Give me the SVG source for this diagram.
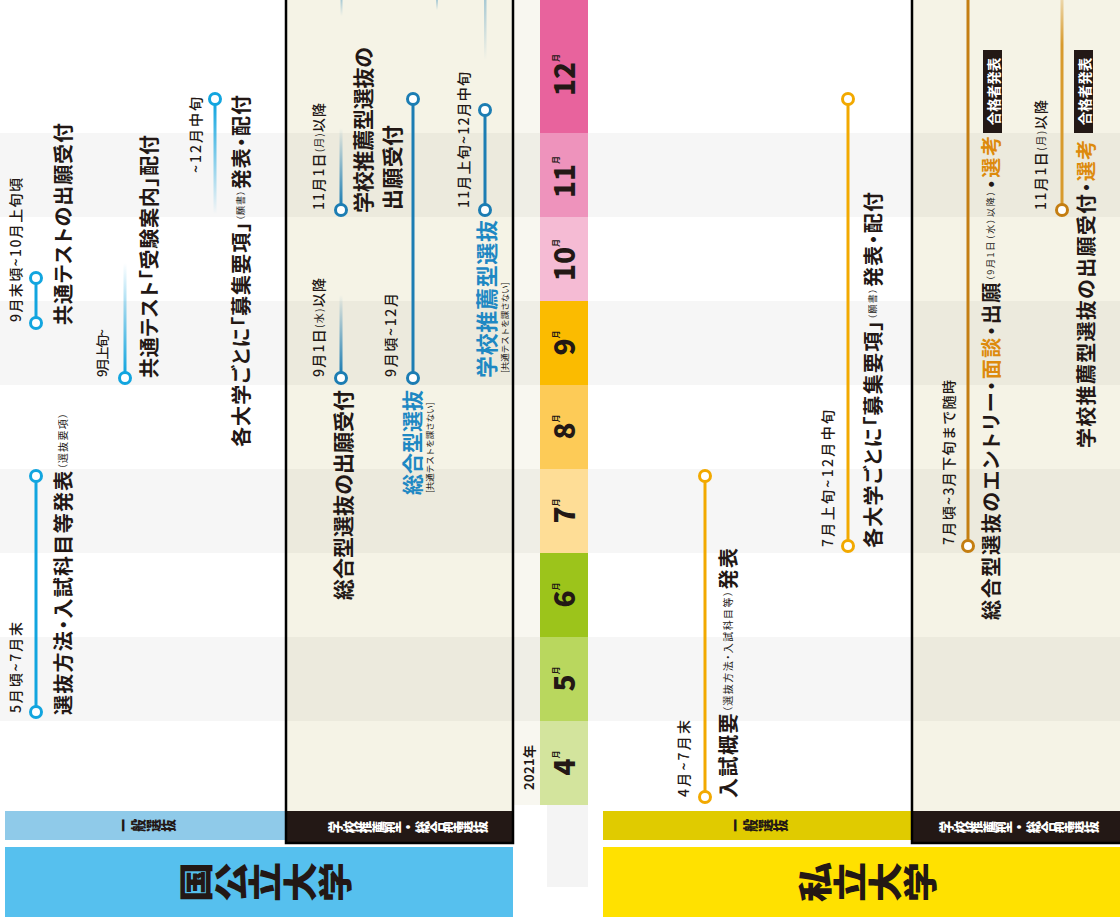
<svg xmlns="http://www.w3.org/2000/svg" width="1120" height="922" viewBox="0 0 1120 922">
<style>
text{font-family:"Noto Sans CJK JP","Noto Sans CJK SC",sans-serif;dominant-baseline:central;fill:#231815}
.lb{font-size:14px;font-weight:500}
.bt{font-size:20px;font-weight:700;font-feature-settings:"palt"}
.sm{font-size:10px;font-weight:400}
.s9{font-size:9px;font-weight:400}
.xs{font-size:8.5px;font-weight:400}
.vt{writing-mode:vertical-rl;text-anchor:middle;font-weight:900}
.mo{font-size:28px;font-weight:900;text-anchor:middle;dominant-baseline:alphabetic}
.mo tspan{font-size:8px;font-weight:700}
.cg{fill:#fff;stroke:#12A5DF;stroke-width:3}
.cb{fill:#fff;stroke:#1C7DB3;stroke-width:3}
.co{fill:#fff;stroke:#F2A900;stroke-width:3}
.cd{fill:#fff;stroke:#C47E12;stroke-width:3}
.bl{fill:#1E88C3}
.or{fill:#DD8A0C}
.wt{fill:#fff}
.st{fill:#F6F6F6}
.sc{fill:#ECEADD}
.cream{fill:#F5F3E6}
.bd{fill:none;stroke:#000;stroke-width:2.5}
.dk{fill:#231815}
</style>
<defs>
<linearGradient id="fadeUpG" x1="0" y1="0" x2="0" y2="1"><stop offset="0" stop-color="#12A5DF" stop-opacity="0"/><stop offset="1" stop-color="#12A5DF"/></linearGradient>
<linearGradient id="fadeDownG" x1="0" y1="0" x2="0" y2="1"><stop offset="0" stop-color="#12A5DF"/><stop offset="1" stop-color="#12A5DF" stop-opacity="0"/></linearGradient>
<linearGradient id="fadeUpB" x1="0" y1="0" x2="0" y2="1"><stop offset="0" stop-color="#1C7DB3" stop-opacity="0"/><stop offset="1" stop-color="#1C7DB3"/></linearGradient>
<linearGradient id="fadeTopB" x1="0" y1="0" x2="0" y2="1"><stop offset="0" stop-color="#1C7DB3" stop-opacity="0.35"/><stop offset="1" stop-color="#1C7DB3" stop-opacity="0"/></linearGradient>
<linearGradient id="fadeTopO" x1="0" y1="0" x2="0" y2="1"><stop offset="0" stop-color="#D89A2C" stop-opacity="0.3"/><stop offset="0.22" stop-color="#D89A2C"/><stop offset="1" stop-color="#D89A2C"/></linearGradient>
</defs>

<g id="background">
<rect x="0" y="0" width="1120" height="922" fill="#fff"/>
<rect x="0" y="133" width="286" height="84" class="st"/>
<rect x="0" y="301" width="286" height="84" class="st"/>
<rect x="0" y="469" width="286" height="84" class="st"/>
<rect x="0" y="637" width="286" height="84" class="st"/>
<rect x="514" y="0" width="26" height="805" fill="#F8F7F0"/>
<rect x="514" y="133" width="26" height="84" fill="#EFEEE6"/>
<rect x="514" y="301" width="26" height="84" fill="#EFEEE6"/>
<rect x="514" y="469" width="26" height="84" fill="#EFEEE6"/>
<rect x="514" y="637" width="26" height="84" fill="#EFEEE6"/>
<rect x="588" y="133" width="324" height="84" class="st"/>
<rect x="588" y="301" width="324" height="84" class="st"/>
<rect x="588" y="469" width="324" height="84" class="st"/>
<rect x="588" y="637" width="324" height="84" class="st"/>
<rect x="286" y="-5" width="227" height="848" class="cream"/>
<rect x="286" y="133" width="227" height="84" class="sc"/>
<rect x="286" y="301" width="227" height="84" class="sc"/>
<rect x="286" y="469" width="227" height="84" class="sc"/>
<rect x="286" y="637" width="227" height="84" class="sc"/>
<rect x="912" y="-5" width="215" height="848" class="cream"/>
<rect x="912" y="133" width="215" height="84" class="sc"/>
<rect x="912" y="301" width="215" height="84" class="sc"/>
<rect x="912" y="469" width="215" height="84" class="sc"/>
<rect x="912" y="637" width="215" height="84" class="sc"/>
<rect x="547" y="805" width="41" height="82" fill="#F4F4F4"/>
</g>

<g id="months">
<rect x="540" y="-2" width="48" height="135" fill="#E8639D"/>
<rect x="540" y="133" width="48" height="84" fill="#EE93BC"/>
<rect x="540" y="217" width="48" height="84" fill="#F5BBD4"/>
<rect x="540" y="301" width="48" height="84" fill="#FBBB00"/>
<rect x="540" y="385" width="48" height="84" fill="#FDCB57"/>
<rect x="540" y="469" width="48" height="84" fill="#FEDD96"/>
<rect x="540" y="553" width="48" height="84" fill="#9CC41B"/>
<rect x="540" y="637" width="48" height="84" fill="#B9D75E"/>
<rect x="540" y="721" width="48" height="84" fill="#D3E49D"/>
<text class="mo" transform="translate(575,75) rotate(-90)">12<tspan dy="-16">月</tspan></text>
<text class="mo" transform="translate(575,177) rotate(-90)">11<tspan dy="-16">月</tspan></text>
<text class="mo" transform="translate(575,260) rotate(-90)">10<tspan dy="-16">月</tspan></text>
<text class="mo" transform="translate(575,343) rotate(-90)">9<tspan dy="-16">月</tspan></text>
<text class="mo" transform="translate(575,427) rotate(-90)">8<tspan dy="-16">月</tspan></text>
<text class="mo" transform="translate(575,511) rotate(-90)">7<tspan dy="-16">月</tspan></text>
<text class="mo" transform="translate(575,595) rotate(-90)">6<tspan dy="-16">月</tspan></text>
<text class="mo" transform="translate(575,679) rotate(-90)">5<tspan dy="-16">月</tspan></text>
<text class="mo" transform="translate(575,763) rotate(-90)">4<tspan dy="-16">月</tspan></text>
<text transform="translate(528,790) rotate(-90)" style="font-size:13px;font-weight:700" textLength="45">2021年</text>
</g>

<g id="connectors">
<line x1="36" y1="712" x2="36" y2="476" stroke="#12A5DF" stroke-width="3"/>
<line x1="36" y1="323" x2="36" y2="278" stroke="#12A5DF" stroke-width="3"/>
<rect x="123.5" y="263" width="3" height="110" fill="url(#fadeUpG)"/>
<rect x="213.5" y="104" width="3" height="110" fill="url(#fadeDownG)"/>
<rect x="339.5" y="295" width="3" height="78" fill="url(#fadeUpB)"/>
<rect x="339.5" y="128" width="3" height="77" fill="url(#fadeUpB)"/>
<line x1="413" y1="378" x2="413" y2="99" stroke="#1C7DB3" stroke-width="3"/>
<line x1="485" y1="210" x2="485" y2="110" stroke="#1C7DB3" stroke-width="3"/>
<rect x="340.5" y="0" width="2" height="16" fill="url(#fadeTopB)"/>
<rect x="436" y="0" width="2" height="10" fill="url(#fadeTopB)"/>
<rect x="484" y="0" width="2.5" height="60" fill="url(#fadeTopB)"/>
<line x1="705" y1="797" x2="705" y2="476" stroke="#F2A900" stroke-width="3"/>
<line x1="848" y1="546" x2="848" y2="99" stroke="#F2A900" stroke-width="3"/>
<line x1="968" y1="546" x2="968" y2="-2" stroke="#C47E12" stroke-width="3"/>
<rect x="1060.5" y="-2" width="3" height="212" fill="url(#fadeTopO)"/>
</g>

<g id="n-senbatsu-houhou">
<circle cx="36" cy="712" r="5.5" class="cg"/>
<circle cx="36" cy="476" r="5.5" class="cg"/>
<text class="lb" transform="translate(15,713) rotate(-90)" textLength="91">5月頃~7月末</text>
<text class="bt" transform="translate(62,715) rotate(-90)" textLength="302">選抜方法・入試科目等発表<tspan class="sm">（選抜要項）</tspan></text>
</g>

<g id="n-kyotsu-shutsugan">
<circle cx="36" cy="323" r="5.5" class="cg"/>
<circle cx="36" cy="278" r="5.5" class="cg"/>
<text class="lb" transform="translate(15,322) rotate(-90)" textLength="144">9月末頃~10月上旬頃</text>
<text class="bt" transform="translate(62,325) rotate(-90)" textLength="202">共通テストの出願受付</text>
</g>

<g id="n-kyotsu-annai">
<circle cx="125" cy="378" r="5.5" class="cg"/>
<text class="lb" style="font-size:13px" transform="translate(101,377) rotate(-90)" textLength="48">9月上旬~</text>
<text class="bt" transform="translate(148,378) rotate(-90)" textLength="243">共通テスト「受験案内」配付</text>
</g>

<g id="n-boshu-kokko">
<circle cx="215" cy="99" r="5.5" class="cg"/>
<text class="lb" transform="translate(195,173) rotate(-90)" textLength="76">~12月中旬</text>
<text class="bt" transform="translate(240,447) rotate(-90)" textLength="352">各大学ごとに「募集要項」<tspan class="s9">（願書）</tspan>発表・配付</text>
</g>

<g id="n-sogo-shutsugan">
<circle cx="341" cy="378" r="5.5" class="cb"/>
<text class="lb" transform="translate(318,377) rotate(-90)" textLength="99">9月1日<tspan class="sm">(水)</tspan>以降</text>
<text class="bt" style="font-size:21px" transform="translate(342,600) rotate(-90)" textLength="210">総合型選抜の出願受付</text>
</g>

<g id="n-suisen-shutsugan">
<circle cx="341" cy="210" r="5.5" class="cb"/>
<text class="lb" transform="translate(318,210) rotate(-90)" textLength="107">11月1日<tspan class="sm">(月)</tspan>以降</text>
<text class="bt" style="font-size:21px" transform="translate(362,213) rotate(-90)" textLength="166">学校推薦型選抜の</text>
<text class="bt" style="font-size:21px" transform="translate(391,210) rotate(-90)" textLength="85">出願受付</text>
</g>

<g id="n-sogo">
<circle cx="413" cy="378" r="5.5" class="cb"/>
<circle cx="413" cy="99" r="5.5" class="cb"/>
<text class="lb" transform="translate(390,377) rotate(-90)" textLength="84">9月頃~12月</text>
<text class="bt bl" style="font-size:21px" transform="translate(411,495) rotate(-90)" textLength="105">総合型選抜</text>
<text class="xs" transform="translate(429,493) rotate(-90)">[共通テストを課さない]</text>
</g>

<g id="n-suisen">
<circle cx="485" cy="210" r="5.5" class="cb"/>
<circle cx="485" cy="110" r="5.5" class="cb"/>
<text class="lb" transform="translate(463,208) rotate(-90)" textLength="136">11月上旬~12月中旬</text>
<text class="bt bl" style="font-size:22px" transform="translate(485,378) rotate(-90)" textLength="158">学校推薦型選抜</text>
<text class="xs" transform="translate(504,373) rotate(-90)">[共通テストを課さない]</text>
</g>

<g id="n-nyushi-gaiyo">
<circle cx="705" cy="797" r="5.5" class="co"/>
<circle cx="705" cy="476" r="5.5" class="co"/>
<text class="lb" transform="translate(683,797) rotate(-90)" textLength="77">4月~7月末</text>
<text class="bt" transform="translate(727,798) rotate(-90)" textLength="250">入試概要<tspan class="sm">（選抜方法・入試科目等）</tspan>発表</text>
</g>

<g id="n-boshu-shiritsu">
<circle cx="848" cy="546" r="5.5" class="co"/>
<circle cx="848" cy="99" r="5.5" class="co"/>
<text class="lb" transform="translate(827,547) rotate(-90)" textLength="137">7月上旬~12月中旬</text>
<text class="bt" transform="translate(872,548) rotate(-90)" textLength="356">各大学ごとに「募集要項」<tspan class="s9">（願書）</tspan>発表・配付</text>
</g>

<g id="n-sogo-entry">
<circle cx="968" cy="546" r="5.5" class="cd"/>
<text class="lb" transform="translate(948,545) rotate(-90)" textLength="165">7月頃~3月下旬まで随時</text>
<text class="bt" transform="translate(990,620) rotate(-90)" textLength="484">総合型選抜のエントリー・<tspan class="or">面談</tspan>・出願<tspan class="s9">（9月1日（水）以降）</tspan>・<tspan class="or">選考</tspan></text>
<rect x="983" y="50" width="19" height="83" fill="#231815"/>
<text class="wt" transform="translate(992.5,91.5) rotate(-90)" style="font-size:13.5px;font-weight:700;text-anchor:middle">合格者発表</text>
</g>

<g id="n-suisen-shiritsu">
<circle cx="1062" cy="210" r="5.5" class="cd"/>
<text class="lb" transform="translate(1040,210) rotate(-90)" textLength="110">11月1日<tspan class="sm">(月)</tspan>以降</text>
<text class="bt" transform="translate(1085,448) rotate(-90)" textLength="308">学校推薦型選抜の出願受付・<tspan class="or">選考</tspan></text>
<rect x="1074" y="50" width="19" height="83" fill="#231815"/>
<text class="wt" transform="translate(1083.5,91.5) rotate(-90)" style="font-size:13.5px;font-weight:700;text-anchor:middle">合格者発表</text>
</g>

<g id="h-kokkoritsu">
<rect x="5" y="811" width="281" height="29" fill="#8FCAE9"/>
<text class="vt" transform="translate(146,825.5) rotate(-90) scale(0.85,1)" style="font-size:15px">一般選抜</text>
<rect x="286" y="811" width="227" height="32" class="dk"/>
<text class="vt wt" transform="translate(408,827) rotate(-90) scale(0.85,1)" style="font-size:14.5px">学校推薦型・総合型選抜</text>
<rect x="286" y="-5" width="227" height="848" class="bd"/>
<rect x="5" y="847" width="508" height="70" fill="#56C0EE"/>
<text class="vt" transform="translate(266,882) rotate(-90) scale(1,0.85)" style="font-size:40px;letter-spacing:1px">国公立大学</text>
</g>

<g id="h-shiritsu">
<rect x="603" y="811" width="309" height="29" fill="#E0CB00"/>
<text class="vt" transform="translate(758,825.5) rotate(-90) scale(0.85,1)" style="font-size:15px">一般選抜</text>
<rect x="912" y="811" width="215" height="32" class="dk"/>
<text class="vt wt" transform="translate(1019,827) rotate(-90) scale(0.85,1)" style="font-size:14.5px">学校推薦型・総合型選抜</text>
<rect x="912" y="-5" width="215" height="848" class="bd"/>
<rect x="603" y="847" width="517" height="70" fill="#FFE100"/>
<text class="vt" transform="translate(868,882) rotate(-90) scale(1,0.85)" style="font-size:40px;letter-spacing:1px">私立大学</text>
</g>
</svg>
